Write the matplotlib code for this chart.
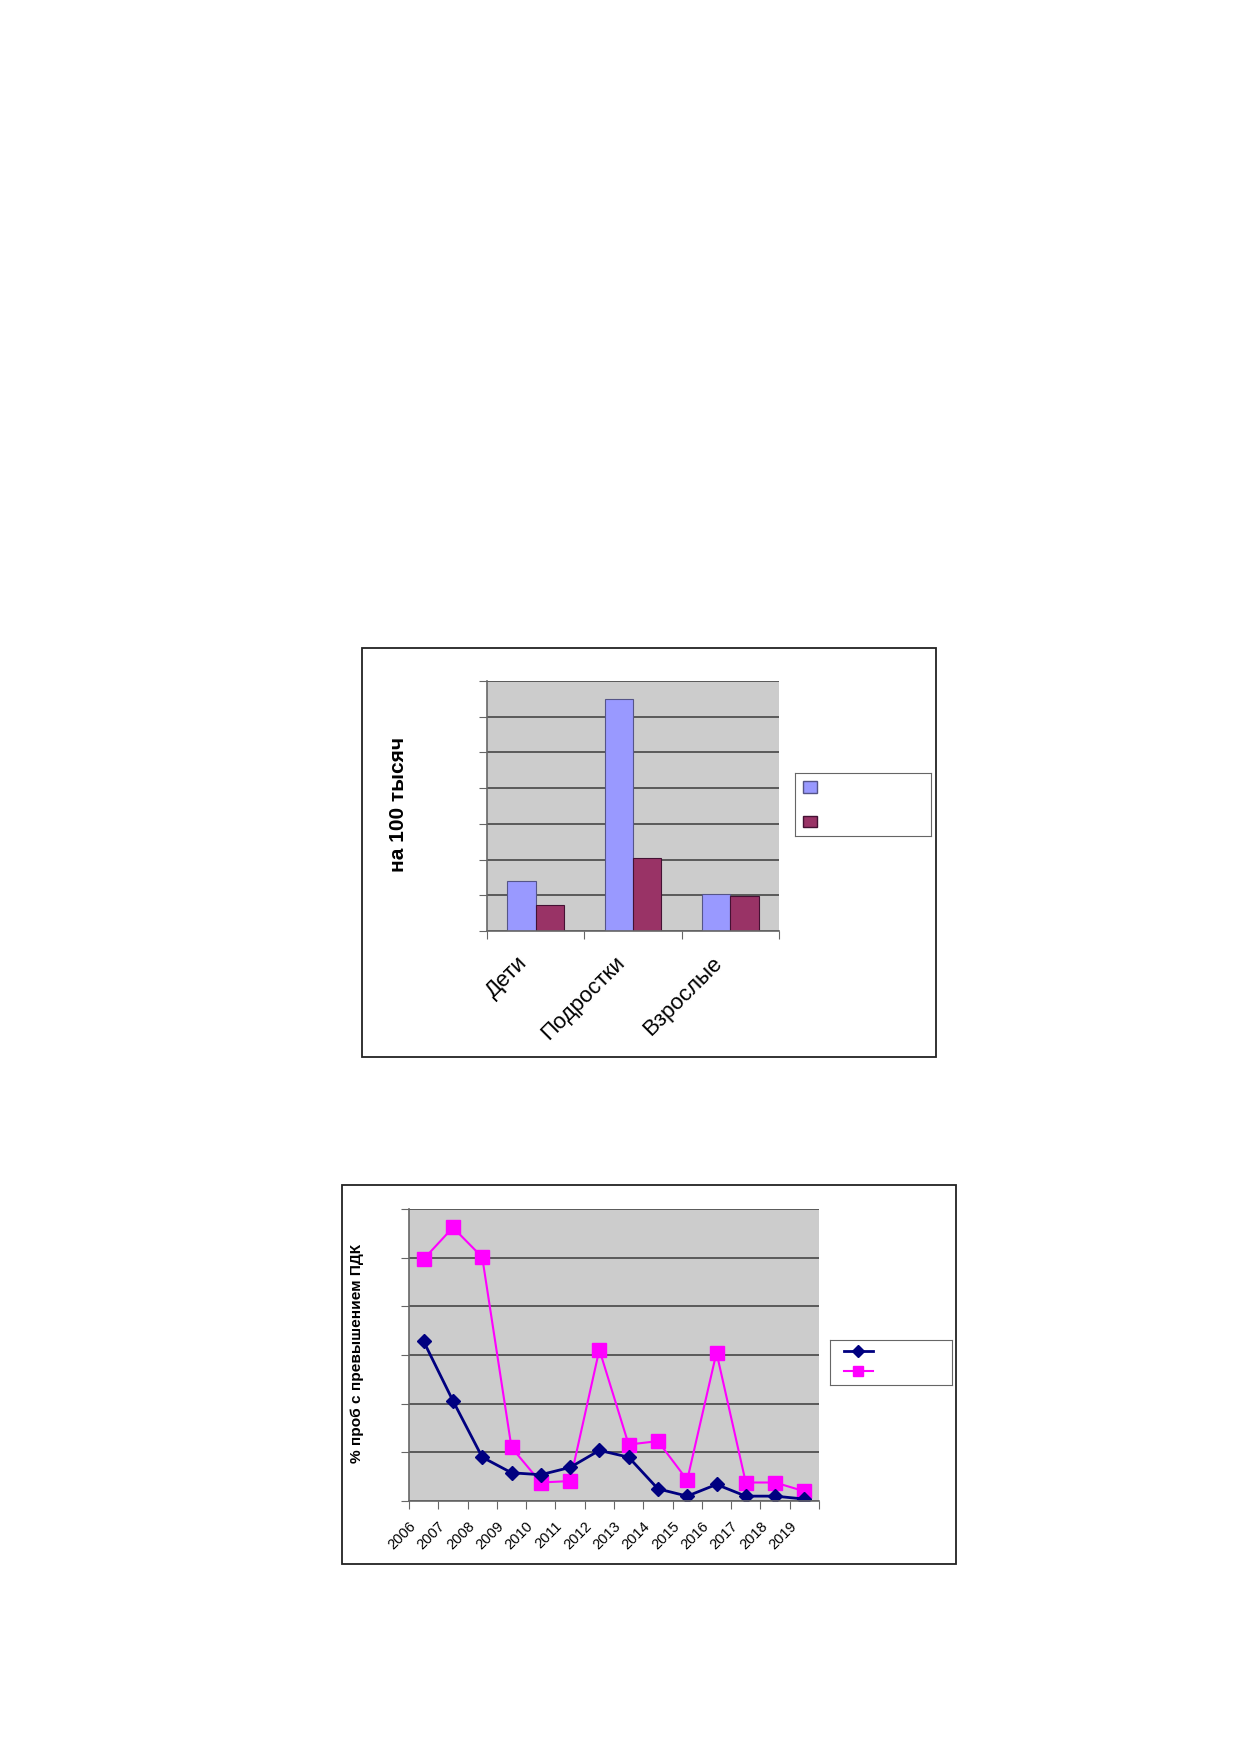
import numpy as np
import matplotlib
matplotlib.use('Agg')
import matplotlib.pyplot as plt
import matplotlib.transforms as mtransforms
from matplotlib.patches import Rectangle, Patch
from matplotlib.lines import Line2D

plt.rcParams['font.family'] = ['Liberation Sans', 'DejaVu Sans']

# данные первого графика (на 100 тысяч)
groups = ['Дети', 'Подростки', 'Взрослые']
series_a = [1.41, 6.51, 1.05]
series_b = [0.73, 2.04, 0.98]

# данные второго графика (% проб с превышением ПДК)
years = ['2006', '2007', '2008', '2009', '2010', '2011', '2012',
         '2013', '2014', '2015', '2016', '2017', '2018', '2019']
navy_vals = [3.28, 2.06, 0.90, 0.58, 0.54, 0.69, 1.04, 0.90, 0.25, 0.10, 0.34, 0.10, 0.10, 0.04]
pink_vals = [4.97, 5.62, 5.01, 1.10, 0.38, 0.41, 3.11, 1.16, 1.23, 0.43, 3.05, 0.38, 0.38, 0.20]

W, H = 1239, 1754
fig = plt.figure(figsize=(W / 100, H / 100), dpi=100)


def box(x0, y0, x1, y1):
    # пиксели -> доли фигуры
    return [x0 / W, 1 - y1 / H, (x1 - x0) / W, (y1 - y0) / H]


def frame(x0, y0, x1, y1):
    l, b, w, h = box(x0, y0, x1, y1)
    fig.add_artist(Rectangle((l, b), w, h, transform=fig.transFigure,
                             fill=False, ec='#222222', lw=1.3))


def style_axes(ax, ymax):
    ax.set_facecolor('#CCCCCC')
    ax.set_ylim(0, ymax)
    ax.set_yticks(range(ymax + 1))
    ax.yaxis.grid(True, color='#505050', lw=1.3)
    ax.set_axisbelow(True)
    for s in ['top', 'right']:
        ax.spines[s].set_visible(False)
    for s in ['left', 'bottom']:
        ax.spines[s].set_color('#666666')
        ax.spines[s].set_linewidth(1.2)
    ax.tick_params(axis='y', length=6, color='#666666', labelleft=False)
    ax.tick_params(axis='x', length=6, color='#666666', labelbottom=False)


def cat_labels(ax, labels, dx, dy, size):
    off = mtransforms.ScaledTranslation(dx / 100, -dy / 100, fig.dpi_scale_trans)
    tr = ax.get_xaxis_transform() + off
    for i, lab in enumerate(labels):
        ax.text(i, 0, lab, transform=tr, rotation=45, rotation_mode='anchor',
                ha='right', va='center', fontsize=size)


# ---------- столбчатая диаграмма ----------
frame(362, 648, 936, 1057)
ax1 = fig.add_axes(box(487, 681, 779, 931))
x = np.arange(len(groups))
bw = 0.29
ax1.bar(x - bw / 2, series_a, bw, color='#9999FF', edgecolor='#555588', lw=0.8)
ax1.bar(x + bw / 2, series_b, bw, color='#993366', edgecolor='#441133', lw=0.8)
ax1.set_xlim(-0.5, len(groups) - 0.5)
style_axes(ax1, 7)
ax1.set_xticks(np.arange(-0.5, len(groups), 1))
cat_labels(ax1, groups, -11, 29, 16)
fig.text(398 / W, 1 - 804 / H, 'на 100 тысяч', rotation=90, ha='center', va='center',
         fontsize=15, fontweight='bold')

leg1 = fig.add_axes(box(795, 773, 931, 836))
leg1.set_xticks([]); leg1.set_yticks([])
for s in leg1.spines.values():
    s.set_color('#666666')
leg1.legend(handles=[Patch(fc='#9999FF', ec='#555588'), Patch(fc='#993366', ec='#441133')],
            labels=['', ''], loc='upper left', frameon=False, fontsize=9.4,
            handlelength=1, handleheight=1, labelspacing=1.6,
            borderaxespad=0.2, borderpad=0.45, handletextpad=0.5)

# ---------- линейный график ----------
frame(342, 1185, 956, 1564)
ax2 = fig.add_axes(box(409, 1209, 819, 1501))
xi = np.arange(len(years))
ax2.plot(xi, pink_vals, color='#FF00FF', lw=1.5, marker='s', ms=9.5, mec='#FF00FF')
ax2.plot(xi, navy_vals, color='#000080', lw=2, marker='D', ms=7.5, mec='#000080')
ax2.set_xlim(-0.5, len(years) - 0.5)
style_axes(ax2, 6)
ax2.set_xticks(np.arange(-0.5, len(years), 1))
cat_labels(ax2, years, -10, 23, 10.5)
fig.text(357 / W, 1 - 1353 / H, '% проб с превышением ПДК', rotation=90, ha='center',
         va='center', fontsize=11.1, fontweight='bold')

leg2 = fig.add_axes(box(830, 1340, 952, 1385))
leg2.set_xticks([]); leg2.set_yticks([])
for s in leg2.spines.values():
    s.set_color('#666666')
leg2.legend(handles=[Line2D([], [], color='#000080', lw=2, marker='D', ms=6),
                     Line2D([], [], color='#FF00FF', lw=1.5, marker='s', ms=7.5)],
            labels=['', ''], loc='upper left', frameon=False, fontsize=8,
            handlelength=2.6, labelspacing=0.9,
            borderaxespad=0.2, borderpad=0.4, handletextpad=0.5)
leg2.get_legend().set_bbox_to_anchor((0.06, 1), transform=leg2.transAxes)

fig.savefig('out.png', dpi=100)
